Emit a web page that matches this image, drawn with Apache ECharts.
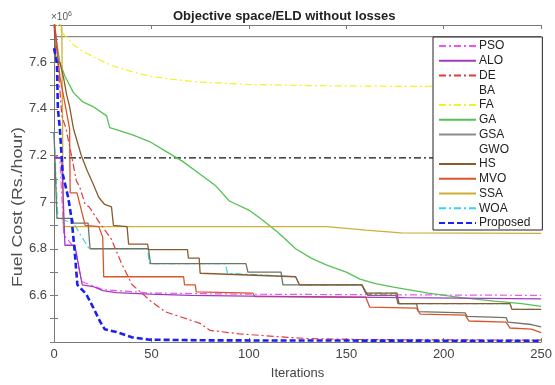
<!DOCTYPE html>
<html><head><meta charset="utf-8">
<script src="https://cdn.jsdelivr.net/npm/echarts@6/dist/echarts.min.js"></script>
<style>html,body{margin:0;padding:0;background:#fff}#c{width:555px;height:385px}</style>
</head><body><div id="c"></div>
<script>
// ---- data (iteration, fuel cost x1e6) ----
const xTicks = [0, 50, 100, 150, 200, 250];
const yTickLabels = ['6.6', '6.8', '7', '7.2', '7.4', '7.6'];
const legendNames = ['PSO','ALO','DE','BA','FA','GA','GSA','GWO','HS','MVO','SSA','WOA','Proposed'];

const psoIter = [0, 3, 5, 11, 14, 25, 50, 100, 250];
const psoCost = [7.2, 7.19, 6.86, 6.8, 6.66, 6.625, 6.61, 6.605, 6.6];

const aloIter = [0, 4, 5.6, 10.7, 14.5, 20, 25, 32, 49, 70, 100, 180, 250];
const aloCost = [7.19, 7.19, 6.815, 6.815, 6.645, 6.638, 6.62, 6.612, 6.605, 6.6, 6.597, 6.59, 6.585];

const deIter = [0, 2, 4, 6, 9, 11.5, 13, 16, 18, 23.5, 29.5, 34.5, 40, 49, 57, 66, 75, 80, 95, 120, 130, 160, 250];
const deCost = [7.8, 7.6, 7.37, 7.32, 7.2, 7.09, 7.07, 6.99, 6.98, 6.91, 6.84, 6.74, 6.647, 6.58, 6.53, 6.505, 6.48, 6.45, 6.435, 6.42, 6.415, 6.41, 6.408];

const baIter = [0, 250];
const baCost = [7.19, 7.19];

const faIter = [0, 5, 10, 15, 23.5, 30, 40, 49, 60, 74.5, 100, 130, 175, 250];
const faCost = [7.78, 7.72, 7.675, 7.645, 7.61, 7.585, 7.56, 7.54, 7.528, 7.515, 7.505, 7.5, 7.497, 7.496];

const gaIter = [0, 3, 5.6, 10, 14.8, 20, 27, 28.6, 40, 49, 57, 66, 75, 83, 90, 100, 107, 115, 124, 132, 140, 150, 157, 165, 175, 192, 209, 226, 240, 250];
const gaCost = [7.76, 7.6, 7.54, 7.47, 7.43, 7.41, 7.37, 7.32, 7.29, 7.26, 7.22, 7.175, 7.12, 7.07, 7.005, 6.966, 6.923, 6.87, 6.8, 6.76, 6.73, 6.7, 6.67, 6.65, 6.634, 6.61, 6.59, 6.575, 6.565, 6.553];

const gsaIter = [0, 250];
const gsaCost = [7.71, 7.71];

const gwoIter = [0, 1.5, 9.5, 10, 17.5, 18.5, 48.5, 49.5, 98.5, 99.5, 116.5, 117.5, 158, 161, 175.5, 176.5, 186, 187, 211, 212, 232, 233, 245, 250];
const gwoCost = [7.3, 6.93, 6.93, 6.91, 6.91, 6.8, 6.8, 6.736, 6.736, 6.7, 6.7, 6.645, 6.645, 6.6, 6.6, 6.565, 6.565, 6.53, 6.525, 6.51, 6.505, 6.485, 6.475, 6.465];

const hsIter = [0, 1, 3, 5, 6.5, 8, 10, 14, 17, 20, 23, 26, 29.5, 30.5, 37.5, 38.3, 48, 48.5, 68.5, 69, 74.5, 75, 124, 126, 158, 160, 176, 177, 234, 235, 250];
const hsCost = [7.78, 7.6, 7.6, 7.53, 7.46, 7.41, 7.315, 7.2, 7.136, 7.08, 7.02, 6.99, 6.98, 6.9, 6.895, 6.82, 6.82, 6.796, 6.796, 6.76, 6.76, 6.695, 6.68, 6.645, 6.645, 6.61, 6.61, 6.565, 6.565, 6.54, 6.54];

const mvoIter = [0, 3, 8, 8.3, 11.8, 16, 23, 25, 25.5, 66.5, 67, 72.5, 73, 102, 103, 160, 162, 186, 188, 211, 213, 232, 234, 245, 250];
const mvoCost = [7.8, 7.54, 7.315, 7.04, 7.04, 6.9, 6.895, 6.85, 6.68, 6.68, 6.645, 6.645, 6.615, 6.61, 6.595, 6.592, 6.55, 6.545, 6.52, 6.515, 6.49, 6.485, 6.46, 6.455, 6.44];

const ssaIter = [0, 4, 4.8, 140, 160, 178, 250];
const ssaCost = [7.8, 7.75, 6.895, 6.895, 6.88, 6.868, 6.866];

const woaIter = [0, 2, 10, 18, 48, 49, 88, 89, 124, 126, 158, 160, 176, 177, 234, 235, 250];
const woaCost = [7.3, 6.93, 6.91, 6.8, 6.8, 6.736, 6.736, 6.695, 6.68, 6.645, 6.645, 6.61, 6.61, 6.565, 6.565, 6.54, 6.54];

const propIter = [0, 1.5, 2, 3, 4.5, 7.3, 9, 10.5, 12, 16.5, 20, 23.5, 26, 32, 40, 49, 80, 250];
const propCost = [7.66, 7.6, 7.4, 7.315, 7.12, 7.02, 6.93, 6.8, 6.645, 6.606, 6.55, 6.49, 6.455, 6.443, 6.42, 6.41, 6.407, 6.405];

// ---- chart ----
const FONT = "'Liberation Sans', Arial, Helvetica, sans-serif";
const zip = (a, b) => a.map((v, i) => [v, b[i]]);
const DASHDOT = [7, 3, 2, 3];

function mk(name, iter, cost, color, width, type) {
  return {
    name, type: 'line', data: zip(iter, cost), symbol: 'none', showSymbol: false,
    lineStyle: { color, width, type }, itemStyle: { color }, animation: false, clip: true
  };
}

const series = [
  mk('WOA', woaIter, woaCost, '#35d8e0', 1.2, DASHDOT),
  mk('PSO', psoIter, psoCost, '#ee55ee', 1.2, DASHDOT),
  mk('BA', baIter, baCost, '#111111', 1.1, DASHDOT),
  mk('GSA', gsaIter, gsaCost, '#8c8c8c', 1.1, 'solid'),
  mk('FA', faIter, faCost, '#f2f22a', 1.2, DASHDOT),
  mk('GA', gaIter, gaCost, '#55c255', 1.3, 'solid'),
  mk('SSA', ssaIter, ssaCost, '#cdb032', 1.3, 'solid'),
  mk('GWO', gwoIter, gwoCost, '#6c7664', 1.3, 'solid'),
  mk('HS', hsIter, hsCost, '#8a5a30', 1.3, 'solid'),
  mk('MVO', mvoIter, mvoCost, '#d8562c', 1.3, 'solid'),
  mk('ALO', aloIter, aloCost, '#a23ac4', 1.3, 'solid'),
  mk('DE', deIter, deCost, '#e43a3a', 1.2, DASHDOT),
  mk('Proposed', propIter, propCost, '#1c22ee', 2.6, [6, 3])
];

const hidden = { BA: 1, GWO: 1 };
const legendData = legendNames.map(n => hidden[n]
  ? { name: n, lineStyle: { opacity: 0 }, itemStyle: { opacity: 0 } }
  : { name: n, itemStyle: { opacity: 0 } });

const yFmt = v => {
  const t = Math.round(v * 10);
  if (Math.abs(v * 10 - t) > 1e-6) return '';
  const s = String(t / 10);
  return yTickLabels.indexOf(s) >= 0 ? s : '';
};

const axisLine = { show: true, lineStyle: { color: '#7a7a7a', width: 1 } };
const tick = { show: true, inside: true, length: 4, lineStyle: { color: '#7a7a7a' } };

const option = {
  backgroundColor: '#ffffff',
  animation: false,
  title: {
    text: 'Objective space/ELD without losses', left: 168, top: 5,
    textStyle: { fontFamily: FONT, fontSize: 13, fontWeight: 'bold', color: '#222' }
  },
  graphic: [{
    type: 'text', left: 51, top: 11,
    style: {
      text: '{a|×10}{b|6}', fill: '#555',
      rich: { a: { fontFamily: FONT, fontSize: 10, fill: '#555' }, b: { fontFamily: FONT, fontSize: 7, fill: '#555', verticalAlign: 'top', padding: [0, 0, 6, 0] } }
    }
  }, {
    type: 'text', x: 18, y: 207, rotation: Math.PI / 2, scaleX: 1.27, scaleY: 1,
    style: { text: 'Fuel Cost (Rs./hour)', fontFamily: FONT, fontSize: 14, fill: '#505050', align: 'center', verticalAlign: 'middle' }
  }],
  grid: { left: 54, right: 11, top: 25, bottom: 40, containLabel: false },
  legend: {
    data: legendData, orient: 'vertical', left: 433, top: 37,
    itemWidth: 37, itemHeight: 12, itemGap: 2.75,
    padding: [3, 12, 1, 5],
    backgroundColor: '#fff', borderColor: '#222', borderWidth: 1,
    textStyle: { fontFamily: FONT, fontSize: 12, color: '#222', padding: [0, 0, 0, -2] },
    selectedMode: false
  },
  xAxis: [
    { type: 'value', min: xTicks[0], max: xTicks[xTicks.length - 1], interval: 50, position: 'bottom',
      axisLine, axisTick: tick, splitLine: { show: false },
      axisLabel: { fontFamily: FONT, fontSize: 13, color: '#444', margin: 6 },
      name: 'Iterations', nameLocation: 'middle', nameGap: 25,
      nameTextStyle: { fontFamily: FONT, fontSize: 13, color: '#444' } },
    { type: 'value', min: 0, max: 250, interval: 50, position: 'top',
      axisLine, axisTick: tick, splitLine: { show: false }, axisLabel: { show: false } }
  ],
  yAxis: [
    { type: 'value', min: 6.4, max: 7.76, interval: 0.1, position: 'left',
      axisLine, axisTick: tick, splitLine: { show: false },
      axisLabel: { fontFamily: FONT, fontSize: 13, color: '#444', margin: 7, formatter: yFmt } },
    { type: 'value', min: 6.4, max: 7.76, interval: 0.1, position: 'right',
      axisLine, axisTick: tick, splitLine: { show: false }, axisLabel: { show: false } }
  ],
  series
};

const chart = echarts.init(document.getElementById('c'), null, { renderer: 'canvas' });
chart.setOption(option);
</script>
</body></html>
